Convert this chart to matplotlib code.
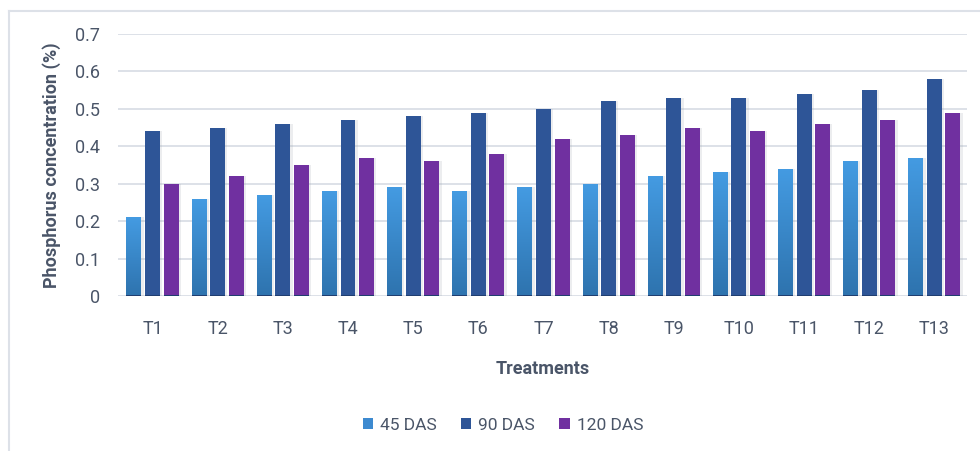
import matplotlib
matplotlib.use("Agg")
import matplotlib.pyplot as plt
import numpy as np
from matplotlib.patches import Patch
from matplotlib.lines import Line2D
from matplotlib.colors import LinearSegmentedColormap

categories = ["T1", "T2", "T3", "T4", "T5", "T6", "T7", "T8", "T9", "T10", "T11", "T12", "T13"]
das45 = [0.21, 0.26, 0.27, 0.28, 0.29, 0.28, 0.29, 0.30, 0.32, 0.33, 0.34, 0.36, 0.37]
das90 = [0.44, 0.45, 0.46, 0.47, 0.48, 0.49, 0.50, 0.52, 0.53, 0.53, 0.54, 0.55, 0.58]
das120 = [0.30, 0.32, 0.35, 0.37, 0.36, 0.38, 0.42, 0.43, 0.45, 0.44, 0.46, 0.47, 0.49]
series_names = ["45 DAS", "90 DAS", "120 DAS"]
yticks = [0, 0.1, 0.2, 0.3, 0.4, 0.5, 0.6, 0.7]
ytick_labels = ["0", "0.1", "0.2", "0.3", "0.4", "0.5", "0.6", "0.7"]

plt.rcParams['font.family'] = ['Roboto', 'DejaVu Sans']
txt = '#4a5568'

fig = plt.figure(figsize=(9.8, 4.51), dpi=100)
W, H = 980, 451
ax = fig.add_axes([118 / W, 1 - 296 / H, (967 - 118) / W, (296 - 34) / H])

x = np.arange(len(categories))
bw = 0.23
step = 0.285
c90 = '#2e5597'
c120 = '#7030a0'

for yv in yticks:
    ax.axhline(yv, color='#dde1e8', lw=1.4, zorder=0)

# shadows
for off, vals in zip([-step, 0, step], [das45, das90, das120]):
    ax.bar(x + off + 0.02, vals, width=bw + 0.03, color='#9aa0aa', alpha=0.18, zorder=1, lw=0)

# 45 DAS gradient bars
grad = np.linspace(0, 1, 256).reshape(-1, 1)
cmap = LinearSegmentedColormap.from_list('g', ['#2e73ae', '#449be2'])
bars45 = ax.bar(x - step, das45, width=bw, color='#3d8ad0', zorder=2, lw=0)
for b in bars45:
    x0 = b.get_x(); w = b.get_width(); h = b.get_height()
    im = ax.imshow(grad, cmap=cmap, aspect='auto', origin='lower',
                   extent=[x0, x0 + w, 0, h], zorder=2.1, interpolation='bilinear')
    im.set_clip_path(b)
ax.bar(x, das90, width=bw, color=c90, zorder=2, lw=0)
ax.bar(x + step, das120, width=bw, color=c120, zorder=2, lw=0)

# dark base line under bars
for off in [-step, 0, step]:
    ax.bar(x + off, [0.004] * len(x), width=bw, color='#203e70', zorder=3, lw=0)

ax.set_xlim(-0.53, len(categories) - 0.5)
ax.set_ylim(0, 0.7)

for s in ax.spines.values():
    s.set_visible(False)
ax.set_xticks(x)
ax.set_xticklabels(categories)
ax.set_yticks(yticks)
ax.set_yticklabels(ytick_labels)
ax.tick_params(axis='both', length=0, labelsize=13, colors=txt)
ax.tick_params(axis='x', pad=17)
ax.tick_params(axis='y', pad=13)
ax.set_xlabel('Treatments', fontsize=13, fontweight='bold', color=txt, labelpad=16)
ax.set_ylabel('Phosphorus concentration (%)', fontsize=13, fontweight='bold', color=txt, labelpad=10)

handles = [Patch(facecolor='#3d8ad0'), Patch(facecolor=c90), Patch(facecolor=c120)]
leg = fig.legend(handles, series_names, loc='center', bbox_to_anchor=(503 / W, 1 - 425 / H),
                 ncol=3, frameon=False, fontsize=12.5, handlelength=0.6, handleheight=0.6,
                 columnspacing=1.4, handletextpad=0.4)
for t in leg.get_texts():
    t.set_color(txt)

# figure border (top and left visible)
fig.add_artist(Line2D([8.5 / W, 1], [1 - 10.5 / H, 1 - 10.5 / H], color='#dde1e8', lw=1.5))
fig.add_artist(Line2D([8.5 / W, 8.5 / W], [0, 1 - 10.5 / H], color='#dde1e8', lw=1.5))

fig.savefig('out.png', dpi=100)
